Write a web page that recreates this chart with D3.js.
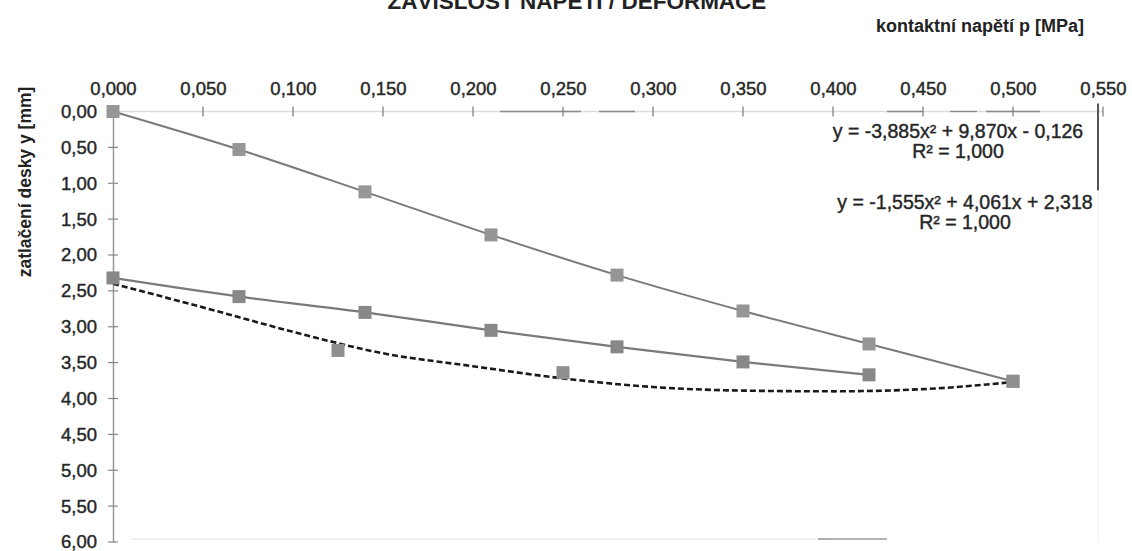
<!DOCTYPE html>
<html>
<head>
<meta charset="utf-8">
<script src="https://cdn.jsdelivr.net/npm/d3@7"></script>
<style>
  html, body { margin: 0; padding: 0; background: #fff; }
  svg { display: block; }
  text { font-family: "Liberation Sans", Arial, sans-serif; fill: #222; }
</style>
</head>
<body>
<svg id="chart" width="1132" height="551"></svg>
<script>
// contact pressure p [MPa] at each load step
const pressure = [0, 0.07, 0.14, 0.21, 0.28, 0.35, 0.42, 0.50];
// plate indentation y [mm], upper series (full load path)
const indentA = [0, 0.53, 1.12, 1.72, 2.28, 2.78, 3.24, 3.76];
// plate indentation y [mm], lower series (first seven steps)
const indentB = [2.32, 2.58, 2.80, 3.05, 3.28, 3.49, 3.67];
// separately measured points
const pressureC = [0.125, 0.25, 0.50];
const indentC = [3.33, 3.64, 3.76];
// dashed trend curve, sampled along its course
const trendP = [0, 0.05, 0.10, 0.15, 0.20, 0.25, 0.30, 0.35, 0.40, 0.45, 0.50];
const trendY = [2.40, 2.73, 3.07, 3.37, 3.55, 3.72, 3.84, 3.89, 3.90, 3.87, 3.77];
// axis ticks
const xTicks = [0, 0.05, 0.10, 0.15, 0.20, 0.25, 0.30, 0.35, 0.40, 0.45, 0.50, 0.55];
const yTicks = [0, 0.5, 1, 1.5, 2, 2.5, 3, 3.5, 4, 4.5, 5, 5.5, 6];
// fitted equations
const equations = [
  ["y = -3,885x² + 9,870x - 0,126", "R² = 1,000"],
  ["y = -1,555x² + 4,061x + 2,318", "R² = 1,000"]
];

const cz = d3.formatLocale({ decimal: ",", thousands: " ", grouping: [3], currency: ["", " Kč"] });
const fx = cz.format(".3f");
const fy = cz.format(".2f");

const svg = d3.select("#chart");
const x = d3.scaleLinear().domain([0, 0.55]).range([113, 1103]);
const y = d3.scaleLinear().domain([0, 6]).range([111.5, 542]);

// faint plot frame: top axis line, bottom and right edge
svg.append("line").attr("x1", x(0)).attr("x2", x(0.55)).attr("y1", y(0)).attr("y2", y(0))
  .attr("stroke", "#dcdcdc").attr("stroke-width", 1.5);
[[0.215, 0.26], [0.27, 0.29], [0.43, 0.45], [0.465, 0.48], [0.485, 0.515]].forEach(s => {
  svg.append("line").attr("x1", x(s[0])).attr("x2", x(s[1])).attr("y1", y(0)).attr("y2", y(0))
    .attr("stroke", "#8a8a8a").attr("stroke-width", 1.3);
});
svg.append("line").attr("x1", x(0.01)).attr("x2", x(0.4)).attr("y1", y(6) - 3).attr("y2", y(6) - 3)
  .attr("stroke", "#ececec").attr("stroke-width", 1.5);
svg.append("line").attr("x1", x(0.4) - 15).attr("x2", x(0.43)).attr("y1", y(6) - 3).attr("y2", y(6) - 3)
  .attr("stroke", "#9a9a9a").attr("stroke-width", 1.5);
svg.append("line").attr("x1", 1098).attr("x2", 1098).attr("y1", y(0) - 8).attr("y2", y(1.1))
  .attr("stroke", "#555").attr("stroke-width", 2);
svg.append("line").attr("x1", 1098).attr("x2", 1098).attr("y1", y(1.1)).attr("y2", y(6))
  .attr("stroke", "#f0f0f0").attr("stroke-width", 1);

// top x axis
const xAxis = svg.append("g").attr("transform", `translate(0,${y(0)})`)
  .call(d3.axisTop(x).tickValues(xTicks).tickFormat(fx).tickSize(0).tickPadding(17));
xAxis.select(".domain").remove();
xAxis.selectAll("text").style("font-size", "18.5px").attr("stroke", "#333").attr("stroke-width", 0.45);
svg.append("g").selectAll("line").data(xTicks.slice(1)).join("line")
  .attr("x1", d => x(d)).attr("x2", d => x(d)).attr("y1", y(0) - 5).attr("y2", y(0) + 5)
  .attr("stroke", "#777").attr("stroke-width", 1.2);

// left y axis (inverted, 0 at top)
const yAxis = svg.append("g").attr("transform", `translate(${x(0)},0)`)
  .call(d3.axisLeft(y).tickValues(yTicks).tickFormat(fy).tickSize(0).tickPadding(16));
yAxis.select(".domain").attr("stroke", "#999").attr("stroke-width", 1.5);
yAxis.selectAll("text").style("font-size", "18.5px").attr("stroke", "#333").attr("stroke-width", 0.45);
svg.append("g").selectAll("line").data(yTicks.slice(1)).join("line")
  .attr("x1", x(0) - 5).attr("x2", x(0) + 5).attr("y1", d => y(d)).attr("y2", d => y(d))
  .attr("stroke", "#888").attr("stroke-width", 1.2);

// title and axis titles
svg.append("text").attr("x", 577).attr("y", 9).attr("text-anchor", "middle")
  .style("font-size", "22.5px").style("font-weight", "bold").text("ZÁVISLOST NAPĚTÍ / DEFORMACE");
svg.append("text").attr("x", 980).attr("y", 32).attr("text-anchor", "middle")
  .style("font-size", "18px").style("font-weight", "bold").text("kontaktní napětí p [MPa]");
svg.append("text").attr("transform", "translate(31,182) rotate(-90)").attr("text-anchor", "middle")
  .style("font-size", "17.5px").style("font-weight", "bold").text("zatlačení desky y [mm]");

// lines
const ptsA = pressure.map((p, i) => [p, indentA[i]]);
const ptsB = indentB.map((v, i) => [pressure[i], v]);
const ptsC = pressureC.map((p, i) => [p, indentC[i]]);
const ptsT = trendP.map((p, i) => [p, trendY[i]]);
const line = d3.line().x(d => x(d[0])).y(d => y(d[1])).curve(d3.curveMonotoneX);

svg.append("path").attr("d", line(ptsA)).attr("fill", "none").attr("stroke", "#7a7a7a").attr("stroke-width", 2);
svg.append("path").attr("d", line(ptsB)).attr("fill", "none").attr("stroke", "#7a7a7a").attr("stroke-width", 2.2);
svg.append("path").attr("d", line(ptsT)).attr("fill", "none").attr("stroke", "#1a1a1a")
  .attr("stroke-width", 2.6).attr("stroke-dasharray", "6,3");

// square markers
const ms = 13;
function markers(pts, fill) {
  svg.append("g").selectAll("rect").data(pts).join("rect")
    .attr("x", d => x(d[0]) - ms / 2).attr("y", d => y(d[1]) - ms / 2)
    .attr("width", ms).attr("height", ms).attr("fill", fill);
}
markers(ptsA, "#969696");
markers(ptsB, "#888888");
markers(ptsC, "#8f8f8f");

// equations
equations.forEach((eq, i) => {
  const g = svg.append("g");
  const cx = i === 0 ? 958 : 965;
  const by = i === 0 ? 138 : 209;
  g.append("text").attr("x", cx).attr("y", by).attr("text-anchor", "middle")
    .style("font-size", "19.5px").attr("stroke", "#333").attr("stroke-width", 0.45).text(eq[0]);
  g.append("text").attr("x", cx).attr("y", by + 20).attr("text-anchor", "middle")
    .style("font-size", "19.5px").attr("stroke", "#333").attr("stroke-width", 0.45).text(eq[1]);
});
</script>
</body>
</html>
